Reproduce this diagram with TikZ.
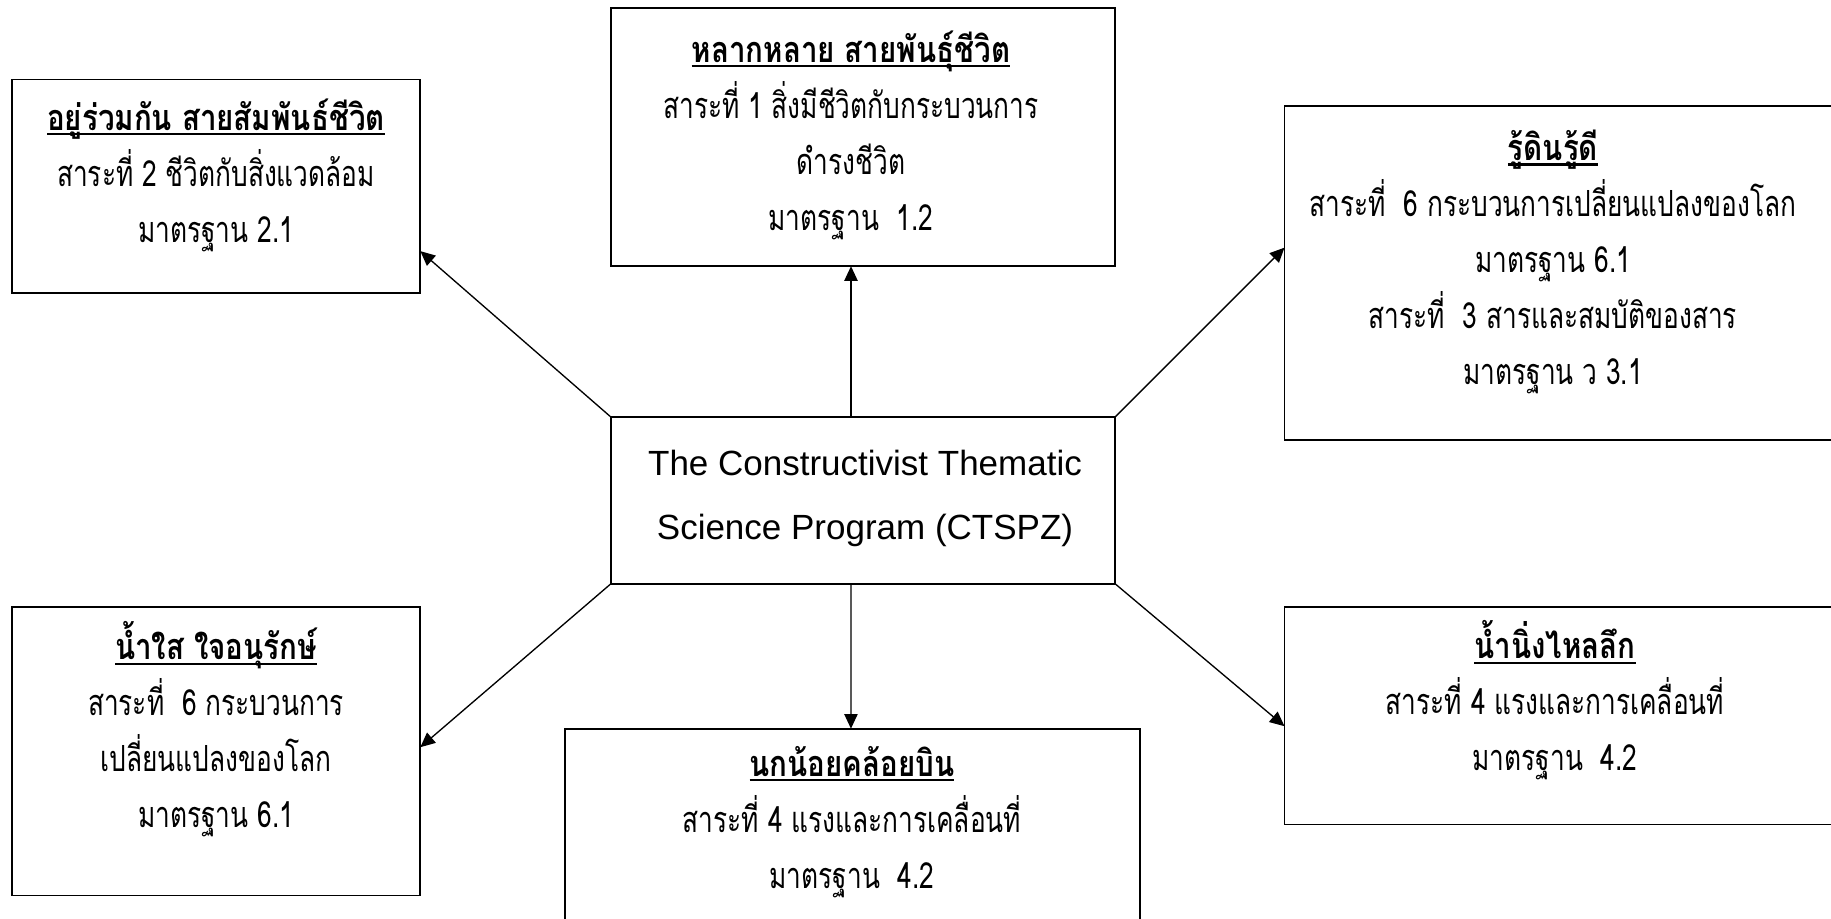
\documentclass[tikz,border=0pt]{standalone}
\usepackage{fontspec}
\setmainfont{Liberation Sans}
\newfontfamily\thaifont[Script=Thai,FakeStretch=0.73]{Loma}
\newfontfamily\thaititle[Script=Thai,FakeStretch=0.82]{Loma}
\usetikzlibrary{arrows.meta,calc}
\newcommand{\thul}[1]{\setbox0=\hbox{\thaititle\bfseries #1}\makebox[0pt][l]{\rule[-0.14em]{\wd0}{0.06em}}\box0}
\begin{document}
\begin{tikzpicture}[x=0.75pt,y=-0.75pt,
  box/.style={draw,line width=1.3pt,inner sep=0pt,outer sep=0pt,rectangle,fill=white},
  thtext/.style={align=center,inner sep=0pt,font=\thaifont\fontsize{27}{42}\selectfont},
  entext/.style={align=center,inner sep=0pt,font=\fontsize{26.25}{48}\selectfont},
  arr/.style={line width=1pt,-{Triangle[length=11pt,width=10pt]}}]
\useasboundingbox (0,0) rectangle (1831,918);
\clip (0,0) rectangle (1831,918);
\fill[white] (0,0) rectangle (1831,918);
% boxes
\node[box,minimum width=306.5pt,minimum height=160.3pt] (A) at (216,186.25) {};
\node[box,minimum width=378.4pt,minimum height=193.5pt] (B) at (863,137.2) {};
\node[box,minimum width=417.4pt,minimum height=250.5pt] (C) at (1562.75,273.25) {};
\node[box,minimum width=378.4pt,minimum height=125.25pt] (M) at (863,500.4) {};
\node[box,minimum width=306.5pt,minimum height=216.3pt] (D) at (216,751.4) {};
\node[box,minimum width=430.9pt,minimum height=151pt] (E) at (852.45,829.35) {};
\node[box,minimum width=417.4pt,minimum height=162.9pt] (F) at (1562.75,715.8) {};
% texts
\node[thtext] (tA) at (216,175) {\thul{อยู่ร่วมกัน สายสัมพันธ์ชีวิต}\\ สาระที่ 2 ชีวิตกับสิ่งแวดล้อม\\ มาตรฐาน 2.1};
\node[thtext] (tB) at (851,135) {\thul{หลากหลาย สายพันธุ์ชีวิต}\\ สาระที่ 1 สิ่งมีชีวิตกับกระบวนการ\\ ดำรงชีวิต\\ มาตรฐาน~ 1.2};
\node[thtext] (tC) at (1553,262) {\thul{รู้ดินรู้ดี}\\ สาระที่~ 6 กระบวนการเปลี่ยนแปลงของโลก\\ มาตรฐาน 6.1\\ สาระที่~ 3 สารและสมบัติของสาร\\ มาตรฐาน ว 3.1};
\node[entext] (tM) at (865,498) {The Constructivist Thematic\\ Science Program (CTSPZ)};
\node[thtext] (tD) at (216,729.5) {\thul{น้ำใส ใจอนุรักษ์}\\ สาระที่~ 6 กระบวนการ\\ เปลี่ยนแปลงของโลก\\ มาตรฐาน 6.1};
\node[thtext] (tE) at (852,822) {\thul{นกน้อยคล้อยบิน}\\ สาระที่ 4 แรงและการเคลื่อนที่\\ มาตรฐาน~ 4.2};
\node[thtext] (tF) at (1555,700.5) {\thul{น้ำนิ่งไหลลึก}\\ สาระที่ 4 แรงและการเคลื่อนที่\\ มาตรฐาน~ 4.2};
% arrows
\draw[arr] ($(M.north)+(-12,0)$) -- ($(B.south)+(-12,0)$);
\draw[arr] ($(M.south)+(-12,0)$) -- ($(E.north)+(-1.5,0)$);
\draw[arr] (M.north west) -- ($(A.south east)+(0,-42)$);
\draw[arr] (M.north east) -- ($(C.west)+(0,-25.6)$);
\draw[arr] (M.south west) -- ($(D.north east)+(0,140)$);
\draw[arr] (M.south east) -- ($(F.north west)+(0,119)$);
\end{tikzpicture}
\end{document}
